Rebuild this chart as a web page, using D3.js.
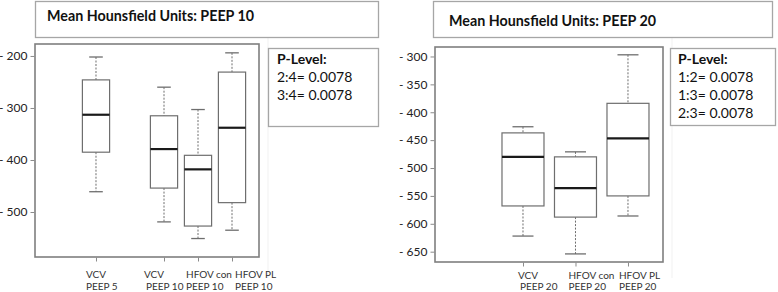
<!DOCTYPE html>
<html>
<head>
<meta charset="utf-8">
<script src="https://cdn.jsdelivr.net/npm/d3@7/dist/d3.min.js"></script>
<style>
  html, body { margin: 0; padding: 0; background: #fff; }
  svg { display: block; font-family: Lato, "Open Sans", "Liberation Sans", sans-serif; }
</style>
</head>
<body>
<svg id="chart" width="778" height="292"></svg>
<script>
// ---------- DATA ----------
// Left panel: Mean Hounsfield Units, PEEP 10
const leftTitle = "Mean Hounsfield Units: PEEP 10";
const leftGroups = ["VCV", "VCV", "HFOV con", "HFOV PL"];
const leftPeep = ["PEEP 5", "PEEP 10", "PEEP 10", "PEEP 10"];
const leftSlots = [1, 3, 4, 5];
const leftMin = [-461, -519, -551, -535];
const leftQ1 = [-385, -454, -527, -482];
const leftMedian = [-313, -379, -418, -338];
const leftQ3 = [-246, -315, -391, -231];
const leftMax = [-202, -260, -303, -194];
const leftTicks = [-200, -300, -400, -500];
const leftPLevel = ["P-Level:", "2:4= 0.0078", "3:4= 0.0078"];

// Right panel: Mean Hounsfield Units, PEEP 20
const rightTitle = "Mean Hounsfield Units: PEEP 20";
const rightGroups = ["VCV", "HFOV con", "HFOV PL"];
const rightPeep = ["PEEP 20", "PEEP 20", "PEEP 20"];
const rightSlots = [1, 2, 3];
const rightMin = [-622, -654, -586];
const rightQ1 = [-568, -588, -550];
const rightMedian = [-480, -536, -447];
const rightQ3 = [-437, -480, -384];
const rightMax = [-426, -471, -297];
const rightTicks = [-300, -350, -400, -450, -500, -550, -600, -650];
const rightPLevel = ["P-Level:", "1:2= 0.0078", "1:3= 0.0078", "2:3= 0.0078"];

// ---------- DRAWING ----------
const svg = d3.select("#chart");
const frameColor = "#7f7f7f";
const boxColor = "#6e6e6e";
const lightBorder = "#a6a6a6";

function fmt(v) { return v < 0 ? "- " + Math.abs(v) : String(v); }

function panel(cfg) {
  const g = svg.append("g");
  const x = d3.scaleLinear().domain(cfg.xDomain).range([cfg.frame.x0, cfg.frame.x1]);
  const y = d3.scaleLinear().domain(cfg.yDomain).range([cfg.frame.y1, cfg.frame.y0]);
  const step = x(2) - x(1);
  const bw = step * 0.8;
  const cw = bw / 2;

  // faint guide line (artifact in source)
  g.append("line")
    .attr("x1", cfg.faintX).attr("x2", cfg.faintX)
    .attr("y1", cfg.title.y1).attr("y2", 278)
    .attr("stroke", "#f1f1f1").attr("stroke-width", 1);

  // title box
  g.append("rect")
    .attr("x", cfg.title.x0 + 0.5).attr("y", cfg.title.y0 + 0.5)
    .attr("width", cfg.title.x1 - cfg.title.x0).attr("height", cfg.title.y1 - cfg.title.y0)
    .attr("fill", "#fff").attr("stroke", lightBorder).attr("stroke-width", 1.3);
  g.append("text")
    .attr("x", cfg.title.tx).attr("y", cfg.title.ty)
    .attr("font-size", 14.3).attr("font-weight", "bold").attr("fill", "#111")
    .text(cfg.titleText);

  // plot frame
  g.append("rect")
    .attr("x", cfg.frame.x0).attr("y", cfg.frame.y0)
    .attr("width", cfg.frame.x1 - cfg.frame.x0).attr("height", cfg.frame.y1 - cfg.frame.y0)
    .attr("fill", "none").attr("stroke", frameColor).attr("stroke-width", 1.6);

  // y axis
  const yAxis = d3.axisLeft(y).tickValues(cfg.ticks).tickSize(4).tickPadding(3).tickFormat(fmt);
  const ya = g.append("g").attr("transform", `translate(${cfg.frame.x0 - 0.5},0)`).call(yAxis);
  ya.select(".domain").remove();
  ya.selectAll(".tick line").attr("stroke", "#8a8a8a");
  ya.selectAll(".tick text").attr("font-size", 12).attr("fill", "#222")
    .attr("font-family", "Lato, 'Open Sans', sans-serif");

  // x axis ticks
  const n = cfg.slots.length;
  const xAxis = d3.axisBottom(x).tickValues(cfg.slots).tickSize(4).tickFormat("");
  const xa = g.append("g").attr("transform", `translate(0,${cfg.frame.y1 + 0.5})`).call(xAxis);
  xa.select(".domain").remove();
  xa.selectAll(".tick line").attr("stroke", "#8a8a8a");

  // boxes
  const idx = d3.range(n);
  const bg = g.selectAll("g.box").data(idx).join("g").attr("class", "box");
  // whiskers (dotted)
  bg.append("line")
    .attr("x1", i => x(cfg.slots[i])).attr("x2", i => x(cfg.slots[i]))
    .attr("y1", i => y(cfg.max[i])).attr("y2", i => y(cfg.q3[i]))
    .attr("stroke", boxColor).attr("stroke-width", 1).attr("stroke-dasharray", "2,1.5");
  bg.append("line")
    .attr("x1", i => x(cfg.slots[i])).attr("x2", i => x(cfg.slots[i]))
    .attr("y1", i => y(cfg.q1[i])).attr("y2", i => y(cfg.min[i]))
    .attr("stroke", boxColor).attr("stroke-width", 1).attr("stroke-dasharray", "2,1.5");
  // caps
  bg.append("line")
    .attr("x1", i => x(cfg.slots[i]) - cw / 2).attr("x2", i => x(cfg.slots[i]) + cw / 2)
    .attr("y1", i => y(cfg.max[i])).attr("y2", i => y(cfg.max[i]))
    .attr("stroke", boxColor).attr("stroke-width", 1.3);
  bg.append("line")
    .attr("x1", i => x(cfg.slots[i]) - cw / 2).attr("x2", i => x(cfg.slots[i]) + cw / 2)
    .attr("y1", i => y(cfg.min[i])).attr("y2", i => y(cfg.min[i]))
    .attr("stroke", boxColor).attr("stroke-width", 1.3);
  // box
  bg.append("rect")
    .attr("x", i => x(cfg.slots[i]) - bw / 2).attr("width", bw)
    .attr("y", i => y(cfg.q3[i])).attr("height", i => y(cfg.q1[i]) - y(cfg.q3[i]))
    .attr("fill", "#fff").attr("stroke", boxColor).attr("stroke-width", 1.2);
  // median
  bg.append("line")
    .attr("x1", i => x(cfg.slots[i]) - bw / 2).attr("x2", i => x(cfg.slots[i]) + bw / 2)
    .attr("y1", i => y(cfg.median[i])).attr("y2", i => y(cfg.median[i]))
    .attr("stroke", "#1a1a1a").attr("stroke-width", 2.2);

  // category labels
  const lg = g.selectAll("text.cat").data(idx).join("text").attr("class", "cat")
    .attr("font-size", 10).attr("fill", "#333");
  lg.append("tspan")
    .attr("x", i => x(cfg.slots[i]) + cfg.nudge1[i]).attr("y", cfg.labelY1)
    .text(i => cfg.groups[i]);
  lg.append("tspan")
    .attr("x", i => x(cfg.slots[i]) + cfg.nudge2[i]).attr("y", cfg.labelY2)
    .text(i => cfg.peep[i]);

  // P-level box
  g.append("rect")
    .attr("x", cfg.pbox.x0 + 0.5).attr("y", cfg.pbox.y0 + 0.5)
    .attr("width", cfg.pbox.x1 - cfg.pbox.x0).attr("height", cfg.pbox.y1 - cfg.pbox.y0)
    .attr("fill", "#fff").attr("stroke", lightBorder).attr("stroke-width", 1.3);
  g.selectAll("text.pl").data(cfg.plevel).join("text").attr("class", "pl")
    .attr("x", cfg.pbox.tx).attr("y", (d, i) => cfg.pbox.ty + i * 18)
    .attr("font-size", 14).attr("fill", "#111")
    .attr("font-weight", (d, i) => i === 0 ? "bold" : "normal")
    .text(d => d);
}

panel({
  titleText: leftTitle,
  title: { x0: 35, x1: 378, y0: 1, y1: 37, tx: 47, ty: 21 },
  frame: { x0: 35, x1: 259, y0: 44, y1: 257 },
  xDomain: [-0.794, 5.794],
  yDomain: [-586.5, -177],
  slots: leftSlots, min: leftMin, q1: leftQ1, median: leftMedian, q3: leftQ3, max: leftMax,
  ticks: leftTicks,
  groups: leftGroups, peep: leftPeep,
  nudge1: [-10, -20, -12, 3], nudge2: [-10, -18, -12, 3],
  labelY1: 278, labelY2: 290,
  pbox: { x0: 268, x1: 378, y0: 48, y1: 126, tx: 277, ty: 64 },
  plevel: leftPLevel,
  faintX: 268
});

panel({
  titleText: rightTitle,
  title: { x0: 433, x1: 772, y0: 1, y1: 37, tx: 449, ty: 26 },
  frame: { x0: 435, x1: 663, y0: 47, y1: 262 },
  xDomain: [-0.676, 3.667],
  yDomain: [-668.5, -283],
  slots: rightSlots, min: rightMin, q1: rightQ1, median: rightMedian, q3: rightQ3, max: rightMax,
  ticks: rightTicks,
  groups: rightGroups, peep: rightPeep,
  nudge1: [-5, -7, -9], nudge2: [-3, -7, -9],
  labelY1: 279, labelY2: 290,
  pbox: { x0: 670, x1: 775, y0: 48, y1: 125, tx: 678, ty: 64 },
  plevel: rightPLevel,
  faintX: 672
});
</script>
</body>
</html>
